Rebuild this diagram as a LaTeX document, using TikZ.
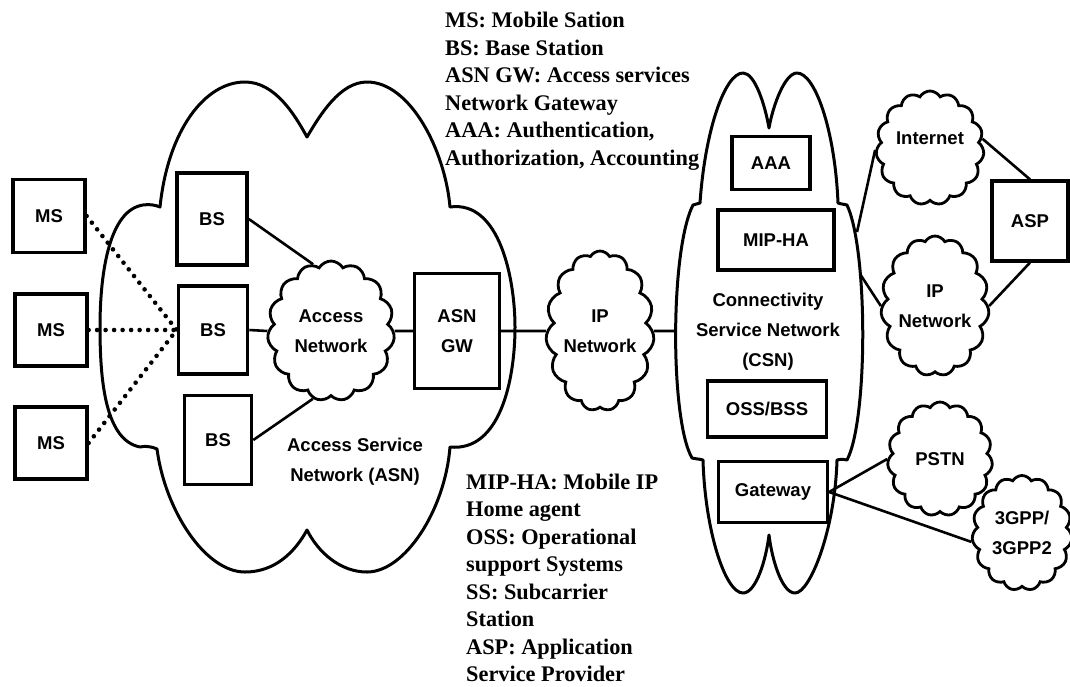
\documentclass[tikz,border=0pt]{standalone}
\usepackage{fontspec}
\setmainfont{Liberation Serif}
\newfontfamily\labelfont{Liberation Sans Bold}
\newfontfamily\notefont{Liberation Serif}
\usetikzlibrary{shapes.symbols}

\tikzset{
  lbl/.style={font=\labelfont\fontsize{18.5}{30}\selectfont, align=center},
  box/.style={lbl, draw, line width=3.2pt, inner sep=0pt},
  bsbox/.style={box, line width=3.6pt},
  netcloud/.style={lbl, cloud, draw, line width=2.8pt, cloud puffs=15,
    cloud puff arc=120, cloud ignores aspect, inner sep=0pt},
  link/.style={line width=2.6pt},
  radio/.style={line width=4.6pt, line cap=round, dash pattern=on 0pt off 8.5pt},
  outline/.style={line width=3pt, line join=round},
  caption/.style={lbl, inner sep=0pt},
  note/.style={anchor=base west, inner sep=0pt,
    font=\notefont\bfseries\fontsize{22.3}{27.5}\selectfont}
}

\begin{document}
\begin{tikzpicture}[x=1pt,y=-1pt]
\useasboundingbox (0,0) rectangle (1070,686);

% Access Service Network cloud
\draw[outline] (160,207) .. controls (168,130) and (205,82) .. (245,82)
  .. controls (275,82) and (295,115) .. (307,137)
  .. controls (320,115) and (340,82) .. (367,82)
  .. controls (410,82) and (445,150) .. (450,207)
  .. controls (500,200) and (515,280) .. (515,327)
  .. controls (515,380) and (500,452) .. (450,447)
  .. controls (445,510) and (405,572) .. (367,572)
  .. controls (340,572) and (318,552) .. (307,530)
  .. controls (295,552) and (275,572) .. (245,572)
  .. controls (205,572) and (165,510) .. (157,449)
  .. controls (150,446) and (145,446) .. (140,447)
  .. controls (105,440) and (100,380) .. (100,327)
  .. controls (100,270) and (110,210) .. (143,205)
  .. controls (150,204) and (155,205) .. (160,207) -- cycle;

% Connectivity Service Network cloud
\draw[outline] (700,203) .. controls (705,130) and (725,73) .. (743,73)
  .. controls (755,73) and (765,105) .. (769,128)
  .. controls (773,105) and (785,73) .. (797,73)
  .. controls (815,73) and (835,130) .. (838,203)
  .. controls (840,204) and (844,204) .. (847,205)
  .. controls (868,250) and (868,420) .. (847,460)
  .. controls (842,459) and (840,459) .. (837,460)
  .. controls (835,530) and (810,593) .. (795,593)
  .. controls (782,593) and (772,560) .. (769,535)
  .. controls (766,560) and (756,593) .. (743,593)
  .. controls (725,593) and (705,530) .. (703,460)
  .. controls (700,459) and (696,459) .. (692,458)
  .. controls (670,420) and (670,250) .. (693,205)
  .. controls (695,204) and (698,204) .. (700,203) -- cycle;

\coordinate (csnW) at (675,331);
\coordinate (csnNE) at (857,232);
\coordinate (csnE) at (860,274);

% Mobile stations
\node[box, minimum width=72pt, minimum height=73pt] (ms1) at (49,216) {MS};
\node[box, minimum width=72pt, minimum height=72pt] (ms2) at (51,330) {MS};
\node[box, minimum width=72pt, minimum height=72pt] (ms3) at (51,443) {MS};

% Base stations
\node[bsbox, minimum width=70pt, minimum height=92pt] (bs1) at (212,219) {BS};
\node[bsbox, minimum width=69pt, minimum height=88pt] (bs2) at (213,330) {BS};
\node[bsbox, minimum width=67pt, minimum height=89pt] (bs3) at (218,440) {BS};

% Networks
\node[netcloud, minimum width=127pt, minimum height=140pt] (acc) at (331,331) {Access\\Network};
\node[box, minimum width=85pt, minimum height=115pt] (asngw) at (457,331) {ASN\\GW};
\node[netcloud, minimum width=106pt, minimum height=160pt] (ipm) at (600,331) {IP\\Network};
\node[caption] (asn) at (355,462) {Access Service\\Network (ASN)};

% CSN members
\node[box, minimum width=78pt, minimum height=53pt] (aaa) at (771,163) {AAA};
\node[box, minimum width=116pt, minimum height=60pt] (mip) at (776,240) {MIP-HA};
\node[caption] (csn) at (768,332) {Connectivity\\Service Network\\(CSN)};
\node[box, minimum width=119pt, minimum height=56pt] (oss) at (767,409) {OSS/BSS};
\node[box, minimum width=109pt, minimum height=61pt] (gw) at (773,492) {Gateway};

% External networks
\node[netcloud, minimum width=108pt, minimum height=114pt] (inet) at (930,148) {Internet\\[-10pt]};
\node[netcloud, minimum width=106pt, minimum height=140pt] (ipr) at (935,306) {IP\\Network};
\node[box, minimum width=76pt, minimum height=80pt] (asp) at (1030,221) {ASP};
\node[netcloud, minimum width=105pt, minimum height=114pt] (pstn) at (940,459) {PSTN};
\node[netcloud, minimum width=100pt, minimum height=115pt] (g3) at (1022,533) {3GPP/\\3GPP2};

% Radio links
\draw[radio] (ms1.east) -- (bs2.west);
\draw[radio] (ms2.east) -- (bs2.west);
\draw[radio] (ms3.east) -- (bs2.west);

% Wired links
\draw[link] (bs1.east) -- (acc.105);
\draw[link] (bs2.east) -- (acc.west);
\draw[link] (bs3.east) -- (acc.255);
\draw[link] (acc.east) -- (asngw.west);
\draw[link] (asngw.east) -- (ipm.west);
\draw[link] (ipm.east) -- (csnW);
\draw[link] (csnNE) -- (inet.182);
\draw[link] (csnE) -- (ipr.west);
\draw[link] (inet.10) -- (asp.north);
\draw[link] (ipr.east) -- (asp.south);
\draw[link] (gw.east) -- (pstn.west);
\draw[link] (gw.east) -- (g3.190);

% Abbreviations
\foreach \t [count=\i] in {MS: Mobile Sation, BS: Base Station,
    ASN GW: Access services, Network Gateway,
    {AAA: Authentication,}, {Authorization, Accounting}}
  \node[note] (keyA\i) at (445,{27.5*\i}) {\t};
\foreach \t [count=\i] in {MIP-HA: Mobile IP, Home agent,
    OSS: Operational, support Systems, SS: Subcarrier, Station,
    ASP: Application, Service Provider}
  \node[note] (keyB\i) at (466,{461.5+27.5*\i}) {\t};
\end{tikzpicture}
\end{document}
